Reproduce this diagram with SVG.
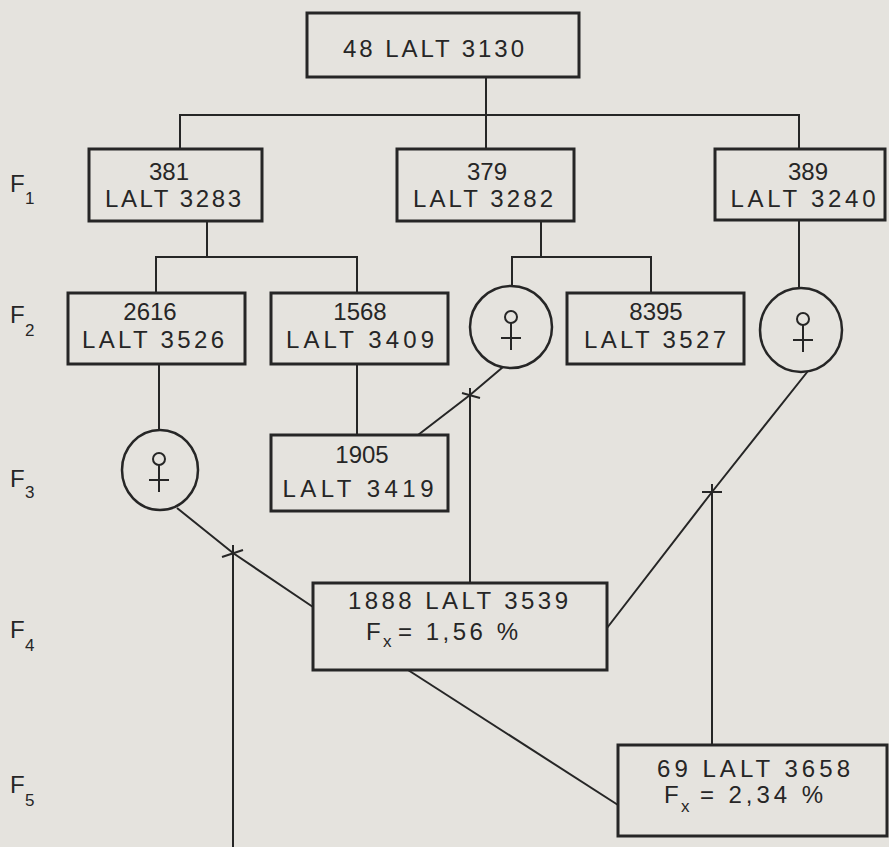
<svg xmlns="http://www.w3.org/2000/svg" xmlns:xlink="http://www.w3.org/1999/xlink" width="889" height="847" viewBox="0 0 889 847">
<style>
.bg{fill:#e5e3de}
.box{fill:#e5e3de;stroke:#262626;stroke-width:3}
.ell{fill:#e5e3de;stroke:#262626;stroke-width:2.5}
.ln{fill:none;stroke:#262626;stroke-width:2}
.t{font-family:"Liberation Sans",Arial,sans-serif;font-size:24px;fill:#262626;text-anchor:middle}
.ts{font-family:"Liberation Sans",Arial,sans-serif;font-size:24px;fill:#262626}
.sub{font-family:"Liberation Sans",Arial,sans-serif;font-size:17px;fill:#262626}
.sym{fill:none;stroke:#262626;stroke-width:2}
</style>
<defs>
<g id="fem">
<circle class="sym" cx="0" cy="-10" r="6"/>
<line class="sym" x1="0" y1="-4" x2="0" y2="23"/>
<line class="sym" x1="-10" y1="11" x2="10" y2="11"/>
</g>
</defs>
<rect class="bg" x="0" y="0" width="889" height="847"/>

<g id="connectors">
<polyline class="ln" points="486,77 486,115"/>
<polyline class="ln" points="180,148 180,115 799,115 799,148"/>
<polyline class="ln" points="486,115 486,148"/>
<polyline class="ln" points="207,221 207,257"/>
<polyline class="ln" points="156,293 156,257 357,257 357,293"/>
<polyline class="ln" points="541,221 541,257"/>
<polyline class="ln" points="512,287 512,257 651,257 651,293"/>
<polyline class="ln" points="799,220 799,288"/>
<polyline class="ln" points="159,364 159,430"/>
<polyline class="ln" points="357,364 357,435"/>
<polyline class="ln" points="503,367 470,395 418,435"/>
<polyline class="ln" points="470,388 470,583"/>
<line class="ln" x1="462" y1="393" x2="480" y2="398"/>
<polyline class="ln" points="808,371 712,492 607,628"/>
<polyline class="ln" points="712,484 712,745"/>
<line class="ln" x1="702" y1="492" x2="722" y2="492"/>
<polyline class="ln" points="177,508 233,553 313,607"/>
<polyline class="ln" points="233,545 233,847"/>
<line class="ln" x1="222" y1="557" x2="243" y2="550"/>
<polyline class="ln" points="408,670 618,805"/>
</g>

<g id="labels">
<text class="ts" x="10" y="192" font-size="23">F</text><text class="sub" x="25" y="204">1</text>
<text class="ts" x="10" y="323" font-size="23">F</text><text class="sub" x="25" y="336">2</text>
<text class="ts" x="10" y="487" font-size="23">F</text><text class="sub" x="25" y="498">3</text>
<text class="ts" x="10" y="638" font-size="23">F</text><text class="sub" x="25" y="651">4</text>
<text class="ts" x="10" y="793" font-size="23">F</text><text class="sub" x="25" y="806">5</text>
</g>

<g id="n3130">
<rect class="box" x="307" y="13" width="272" height="64"/>
<text class="t" x="433.5" y="57" textLength="181" lengthAdjust="spacing">48 LALT 3130</text>
</g>
<g id="n381">
<rect class="box" x="89" y="149" width="173" height="72"/>
<text class="t" x="169" y="180">381</text>
<text class="t" x="173" y="207" textLength="136" lengthAdjust="spacing">LALT 3283</text>
</g>
<g id="n379">
<rect class="box" x="397" y="149" width="177" height="72"/>
<text class="t" x="487" y="180">379</text>
<text class="t" x="483" y="207" textLength="140" lengthAdjust="spacing">LALT 3282</text>
</g>
<g id="n389">
<rect class="box" x="715" y="149" width="170" height="71"/>
<text class="t" x="808" y="180">389</text>
<text class="t" x="803" y="207" textLength="145" lengthAdjust="spacing">LALT 3240</text>
</g>
<g id="n2616">
<rect class="box" x="68" y="293" width="177" height="71"/>
<text class="t" x="150" y="320">2616</text>
<text class="t" x="153" y="348" textLength="142" lengthAdjust="spacing">LALT 3526</text>
</g>
<g id="n1568">
<rect class="box" x="271" y="293" width="177" height="71"/>
<text class="t" x="360" y="320">1568</text>
<text class="t" x="360" y="348" textLength="148" lengthAdjust="spacing">LALT 3409</text>
</g>
<g id="female1">
<ellipse class="ell" cx="511" cy="327" rx="41" ry="41"/>
<use xlink:href="#fem" href="#fem" x="511" y="327"/>
</g>
<g id="n8395">
<rect class="box" x="567" y="293" width="177" height="71"/>
<text class="t" x="656" y="320">8395</text>
<text class="t" x="655" y="348" textLength="142" lengthAdjust="spacing">LALT 3527</text>
</g>
<g id="female2">
<ellipse class="ell" cx="801" cy="330" rx="41" ry="42"/>
<use xlink:href="#fem" href="#fem" x="803" y="329"/>
</g>
<g id="female3">
<ellipse class="ell" cx="160" cy="470" rx="38" ry="40"/>
<use xlink:href="#fem" href="#fem" x="159" y="469"/>
</g>
<g id="n1905">
<rect class="box" x="271" y="435" width="177" height="76"/>
<text class="t" x="362" y="463">1905</text>
<text class="t" x="358" y="497" textLength="151" lengthAdjust="spacing">LALT 3419</text>
</g>
<g id="n1888">
<rect class="box" x="313" y="583" width="294" height="87"/>
<text class="t" x="458" y="609" textLength="220" lengthAdjust="spacing">1888 LALT 3539</text>
<text class="ts" x="366" y="640">F</text><text class="sub" x="383" y="647">x</text>
<text class="ts" x="398" y="640" textLength="120" lengthAdjust="spacing">= 1,56 %</text>
</g>
<g id="n69">
<rect class="box" x="618" y="745" width="269" height="91"/>
<text class="t" x="753.5" y="777" textLength="193" lengthAdjust="spacing">69 LALT 3658</text>
<text class="ts" x="664" y="803">F</text><text class="sub" x="681" y="812">x</text>
<text class="ts" x="700" y="803" textLength="123" lengthAdjust="spacing">= 2,34 %</text>
</g>
</svg>
